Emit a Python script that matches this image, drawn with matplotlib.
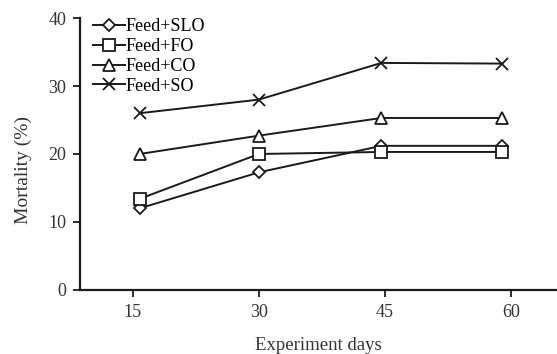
import matplotlib.pyplot as plt

days = [15.8, 30, 44.6, 59]
tick_days = [15, 30, 45, 60]
slo = [12.0, 17.3, 21.2, 21.2]
fo = [13.4, 20.0, 20.3, 20.3]
co = [20.0, 22.7, 25.3, 25.3]
so = [26.0, 28.0, 33.4, 33.3]

plt.rcParams['font.family'] = ['Liberation Serif', 'DejaVu Serif']

fig = plt.figure(figsize=(5.57, 3.54), dpi=100)
ax = fig.add_axes([0.1436, 0.181, 0.8564, 0.768])

col = '#1a1a1a'
kw = dict(color=col, lw=1.4, mfc='white', mec=col, mew=1.3)
ax.plot(days, slo, marker='D', ms=6.5, label='Feed+SLO', **kw)
ax.plot(days, fo, marker='s', ms=8.5, label='Feed+FO', **kw)
ax.plot(days, co, marker='^', ms=8.5, label='Feed+CO', **kw)
ax.plot(days, so, marker='x', ms=9, label='Feed+SO', **kw)

ax.set_xlim(8.7, 65.5)
ax.set_ylim(0, 40)
ax.set_xticks(tick_days)
ax.set_yticks([0, 10, 20, 30, 40])
for s in ['top', 'right']:
    ax.spines[s].set_visible(False)
for s in ['left', 'bottom']:
    ax.spines[s].set_linewidth(1.6)
    ax.spines[s].set_color(col)
ax.tick_params(direction='out', length=5, width=1.3, labelsize=13, colors=col, pad=5)
ax.tick_params(labelcolor='#333333')

ax.set_xlabel('Experiment days', fontsize=13.5, labelpad=12, color='#333333')
ax.set_ylabel('Mortality (%)', fontsize=14, color='#333333')
ax.yaxis.set_label_coords(-0.10, 0.44)

ax.legend(loc='upper left', frameon=False, fontsize=13, handlelength=1.8,
          handletextpad=0.0, labelspacing=0.15, borderaxespad=0.0,
          bbox_to_anchor=(0.012, 1.025))

fig.savefig('out.png', dpi=100)
